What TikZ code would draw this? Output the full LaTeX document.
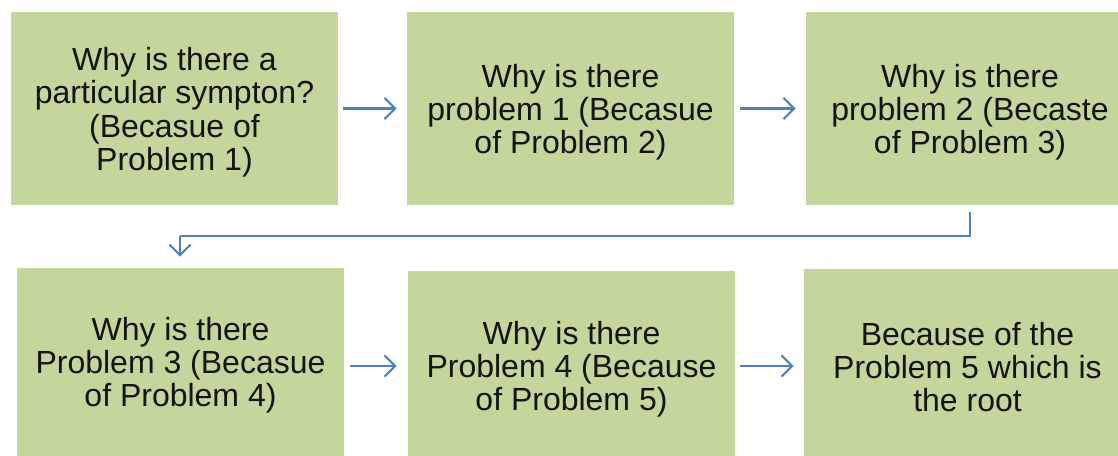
\documentclass[tikz,border=0pt]{standalone}
\usepackage{fontspec}
\setmainfont{Liberation Sans}
\usetikzlibrary{arrows.meta}
\definecolor{boxgreen}{HTML}{C3D69B}
\definecolor{linkblue}{HTML}{4F81BD}
% centred lines, set a little below the middle of the box
\newcommand{\boxlines}[1]{\raisebox{-4pt}[\height][\depth]{\begin{tabular}{@{}c@{}}#1\end{tabular}}}
\begin{document}
\begin{tikzpicture}[x=0.75pt,y=-0.75pt,
  whybox/.style={fill=boxgreen, draw=none, inner sep=0pt, align=center,
    font=\fontsize{24}{24.6}\selectfont, text=black!92},
  link/.style={draw=linkblue, line width=1.6pt,
    -{Straight Barb[length=8pt,width=16pt,line width=1.6pt]}}]
  \useasboundingbox (0,0) rectangle (1118,456);
  % top row
  \node[whybox, minimum width=327*0.75pt, minimum height=193*0.75pt] (b1) at (174.5,108.5)
    {\boxlines{Why is there a\\particular sympton?\\(Becasue of\\Problem 1)}};
  \node[whybox, minimum width=327*0.75pt, minimum height=193*0.75pt] (b2) at (570.5,108.5)
    {\boxlines{Why is there\\problem 1 (Becasue\\of Problem 2)}};
  \node[whybox, minimum width=328*0.75pt, minimum height=193*0.75pt] (b3) at (970,108.5)
    {\boxlines{Why is there\\problem 2 (Becaste\\of Problem 3)}};
  % bottom row (boxes run on past the lower edge)
  \node[whybox, minimum width=327*0.75pt, minimum height=194*0.75pt] (b4) at (180.5,365)
    {Why is there\\Problem 3 (Becasue\\of Problem 4)};
  \node[whybox, minimum width=327*0.75pt, minimum height=196*0.75pt] (b5) at (571.5,369)
    {Why is there\\Problem 4 (Because\\of Problem 5)};
  \node[whybox, minimum width=327*0.75pt, minimum height=196*0.75pt] (b6) at (967.5,367)
    {Because of the\\Problem 5 which is\\the root};
  % connectors
  \coordinate (c1) at (970,236);
  \coordinate (c2) at (180,236);
  \draw[link] ([xshift=5*0.75pt]b1.east) -- ([xshift=-10*0.75pt]b2.west);
  \draw[link] ([xshift=6*0.75pt]b2.east) -- ([xshift=-10*0.75pt]b3.west);
  \draw[link, -] ([yshift=-7*0.75pt]b3.south -| c1) -- (c1) -- (c2);
  \draw[link] (c2) -- ([yshift=11*0.75pt]b4.north -| c2);
  \draw[link] ([xshift=6*0.75pt]b4.east |- 0,366) -- ([xshift=-11*0.75pt]b5.west |- 0,366);
  \draw[link] ([xshift=5*0.75pt]b5.east |- 0,366) -- ([xshift=-10*0.75pt]b6.west |- 0,366);
\end{tikzpicture}
\end{document}
